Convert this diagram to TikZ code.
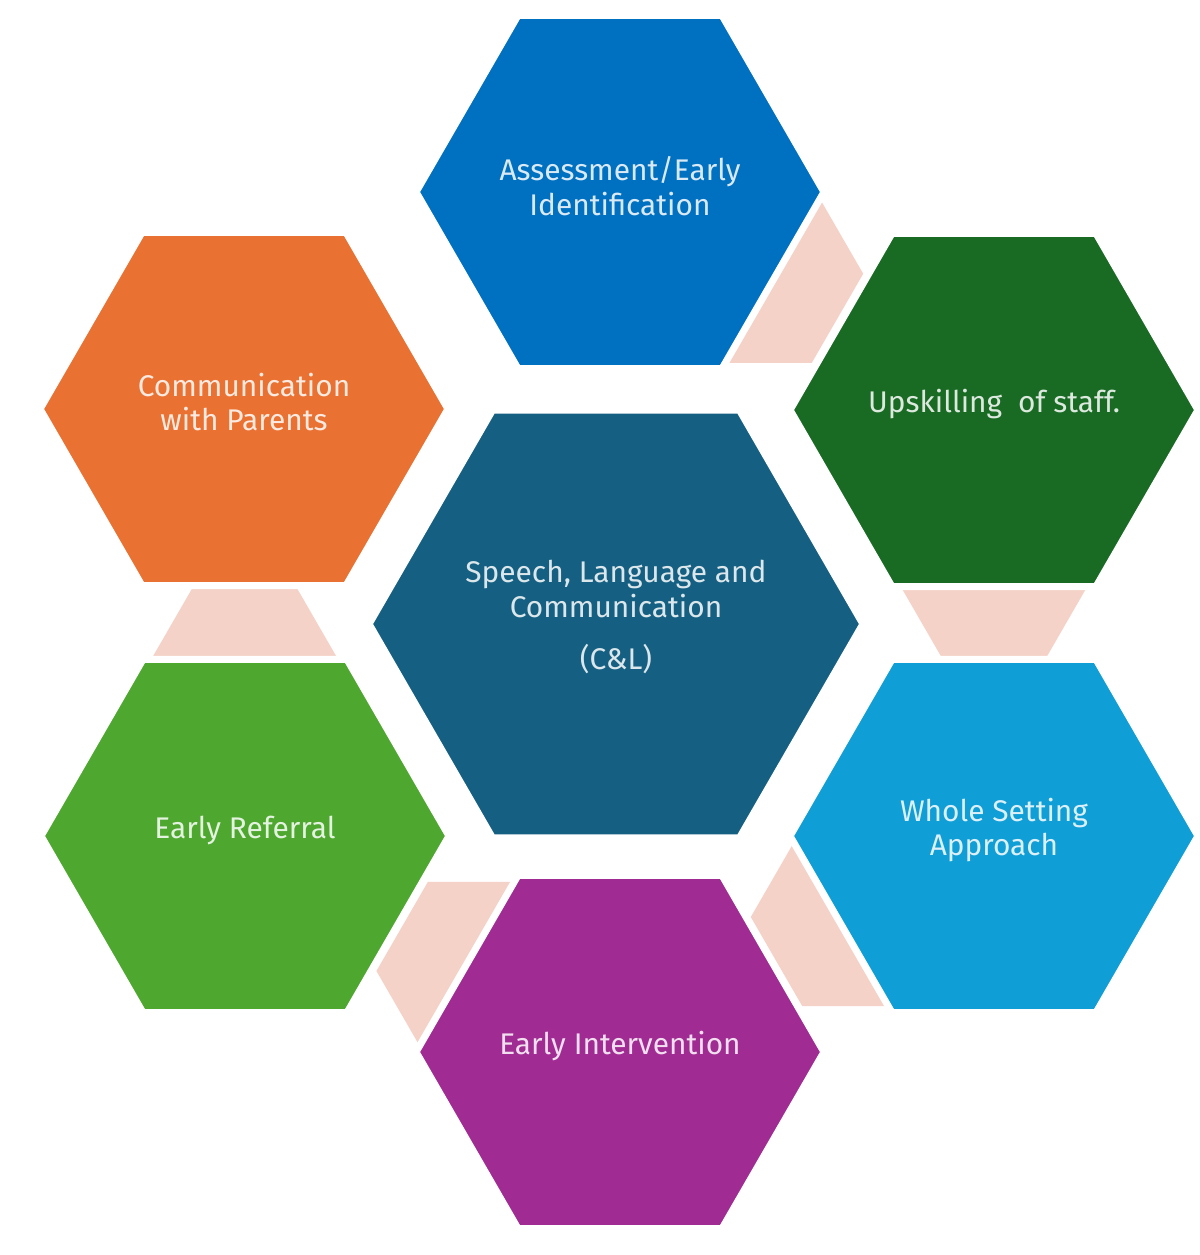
\documentclass[tikz,border=0pt]{standalone}
\usepackage{fontspec}
\setmainfont{Fira Sans}
\usetikzlibrary{shapes.geometric,calc,backgrounds}
\definecolor{assblue}{HTML}{0070C0}
\definecolor{upsgreen}{HTML}{196B24}
\definecolor{wsablue}{HTML}{0F9ED5}
\definecolor{eipurple}{HTML}{A02B93}
\definecolor{ergreen}{HTML}{4EA72E}
\definecolor{cporange}{HTML}{E97132}
\definecolor{slcblue}{HTML}{156082}
\definecolor{linkpink}{HTML}{F5D2C8}
\begin{document}
\begin{tikzpicture}[x=0.02cm,y=-0.02cm,
    hexa/.style={regular polygon, regular polygon sides=6, minimum size=8.16cm,
        inner sep=0pt, draw=white, line width=0.14cm, fill=#1},
    lbl/.style={align=center, text=white!85!#1, font=\fontsize{17}{19.6}\selectfont},
    link/.style={regular polygon, regular polygon sides=6, minimum size=4.12cm,
        inner sep=0pt, fill=linkpink}]
\useasboundingbox (0,0) rectangle (1200,1255);

% centre
\node[hexa=slcblue, minimum size=9.88cm] (slc) at (616,624) {};
\node[lbl=slcblue] (slctxt) at ([yshift=0.14cm]slc.center)
    {Speech, Language and\\Communication\\[10pt](C\&L)};

% outer ring
\node[hexa=assblue] (ass) at (620,192) {};
\node[hexa=upsgreen] (ups) at (994,410) {};
\node[hexa=wsablue] (wsa) at (994,836) {};
\node[hexa=eipurple] (ei) at (620,1052) {};
\node[hexa=ergreen] (er) at (245,836) {};
\node[hexa=cporange] (cp) at (244,409) {};

\node[lbl=assblue] (asstxt) at ([yshift=0.12cm]ass.center) {Assessment/Early\\Identification};
\node[lbl=upsgreen] (upstxt) at ([yshift=0.12cm]ups.center) {Upskilling~ of staff.};
\node[lbl=wsablue] (wsatxt) at ([yshift=0.12cm]wsa.center) {Whole Setting\\Approach};
\node[lbl=eipurple] (eitxt) at ([yshift=0.12cm]ei.center) {Early Intervention};
\node[lbl=ergreen] (ertxt) at ([yshift=0.12cm]er.center) {Early Referral};
\node[lbl=cporange] (cptxt) at ([yshift=0.14cm]cp.center) {Communication\\with Parents};

% links behind the ring
\begin{scope}[on background layer]
\node[link] (l1) at ($(ass)!.375!(ups)$) {};
\node[link] (l2) at ($(ups)!.375!(wsa)$) {};
\node[link] (l3) at ($(wsa)!.375!(ei)$) {};
\node[link] (l4) at ($(ei)!.375!(er)$) {};
\node[link] (l5) at ($(er)!.375!(cp)$) {};
\end{scope}

\end{tikzpicture}
\end{document}
